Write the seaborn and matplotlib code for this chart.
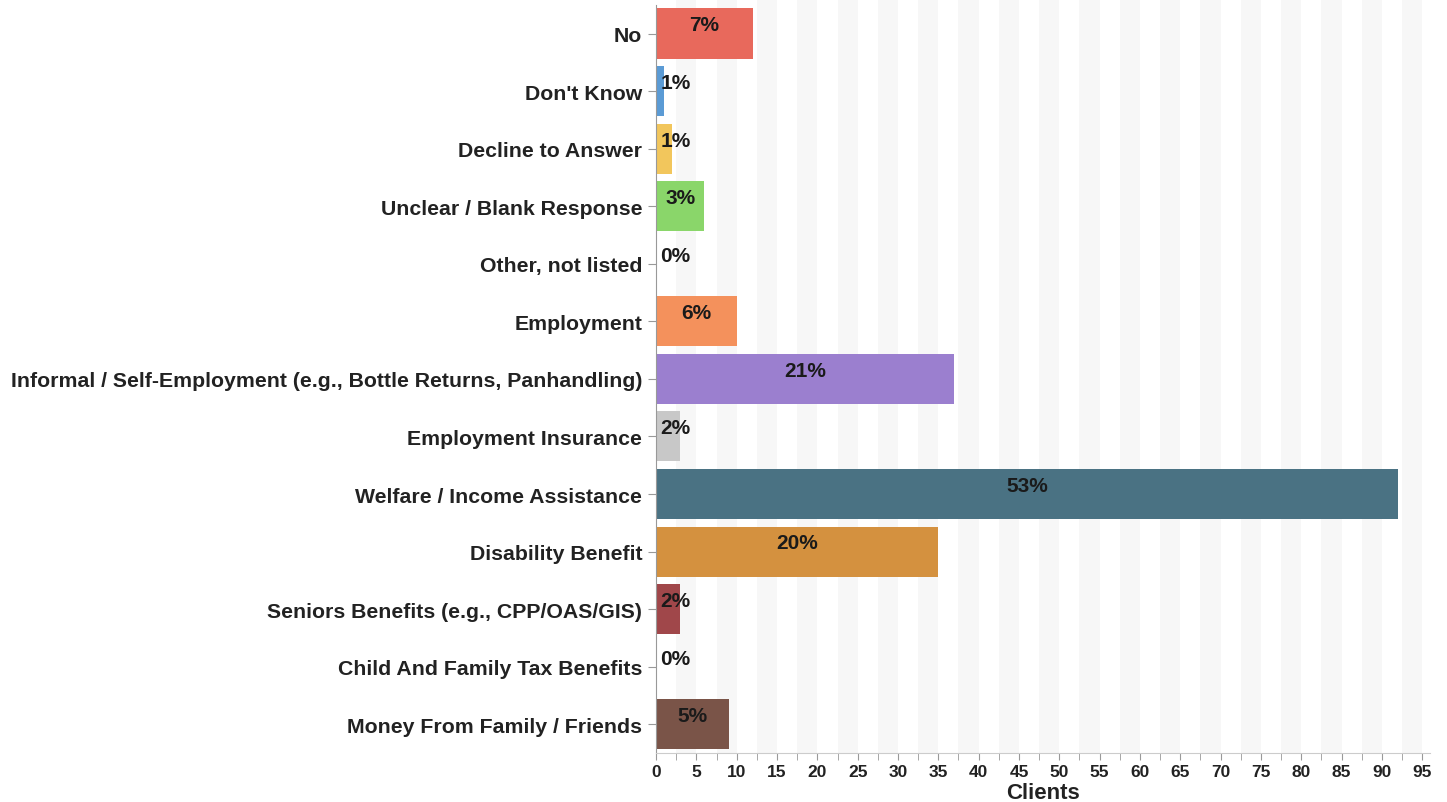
import matplotlib
matplotlib.use("Agg")
import matplotlib.pyplot as plt
import seaborn as sns
import pandas as pd
from matplotlib.ticker import MultipleLocator

# ---------data-----------------------------------------------------------------
categories = ["No", "Don't Know", "Decline to Answer", "Unclear / Blank Response",
              "Other, not listed", "Employment",
              "Informal / Self-Employment (e.g., Bottle Returns, Panhandling)",
              "Employment Insurance", "Welfare / Income Assistance",
              "Disability Benefit", "Seniors Benefits (e.g., CPP/OAS/GIS)",
              "Child And Family Tax Benefits", "Money From Family / Friends"]
clients = [12, 1, 2, 6, 0, 10, 37, 3, 92, 35, 3, 0, 9]
pct_labels = ["7%", "1%", "1%", "3%", "0%", "6%", "21%", "2%", "53%", "20%", "2%", "0%", "5%"]
colors = ["#e8695c", "#5b9bd5", "#f2c65c", "#8ad66a", "#bbbbbb", "#f4915c",
          "#9b7fcf", "#c8c8c8", "#4a7283", "#d4913f", "#a0474a", "#bbbbbb", "#7a5448"]

df = pd.DataFrame({"category": categories, "clients": clients})

# ---------plot-----------------------------------------------------------------
sns.set_style("white")
plt.rcParams["font.family"] = ["Liberation Sans", "DejaVu Sans"]

fig = plt.figure(figsize=(14.47, 8.03), dpi=100)
ax = fig.add_axes([0.4534, 0.061, 0.535, 0.939])

# alternating light stripes every 5 clients
for k in range(0, 19):
    ax.axvspan(2.5 + 5 * k, 5 + 5 * k, color="#f7f7f7", zorder=0, lw=0)

sns.barplot(data=df, y="category", x="clients", hue="category", palette=colors,
            orient="h", width=0.87, legend=False, ax=ax, zorder=2, saturation=1,
            linewidth=0)

for i, (v, lab) in enumerate(zip(clients, pct_labels)):
    ax.text(max(v / 2, 2.4), i - 0.15, lab, ha="center", va="center",
            fontsize=15, fontweight="bold", color="#1a1a1a", zorder=3)

ax.set_xlim(0, 96)
ax.set_ylim(12.5, -0.6)
ax.xaxis.set_major_locator(MultipleLocator(5))
ax.xaxis.set_minor_locator(MultipleLocator(2.5))
ax.tick_params(axis="x", which="both", bottom=True, length=5, color="#999999",
               labelsize=12.5, labelcolor="#222222", pad=3)
ax.tick_params(axis="y", left=True, length=6, color="#999999",
               labelsize=15.3, labelcolor="#222222", pad=4)
for t in ax.get_xticklabels() + ax.get_yticklabels():
    t.set_fontweight("bold")

for s in ["top", "right"]:
    ax.spines[s].set_visible(False)
ax.spines["left"].set_color("#999999")
ax.spines["left"].set_bounds(12.5, -0.5)
ax.spines["bottom"].set_color("#cccccc")

ax.set_ylabel("")
ax.set_xlabel("Clients", fontsize=16, fontweight="bold", color="#222222", labelpad=2)

plt.savefig("out.png", dpi=100)
